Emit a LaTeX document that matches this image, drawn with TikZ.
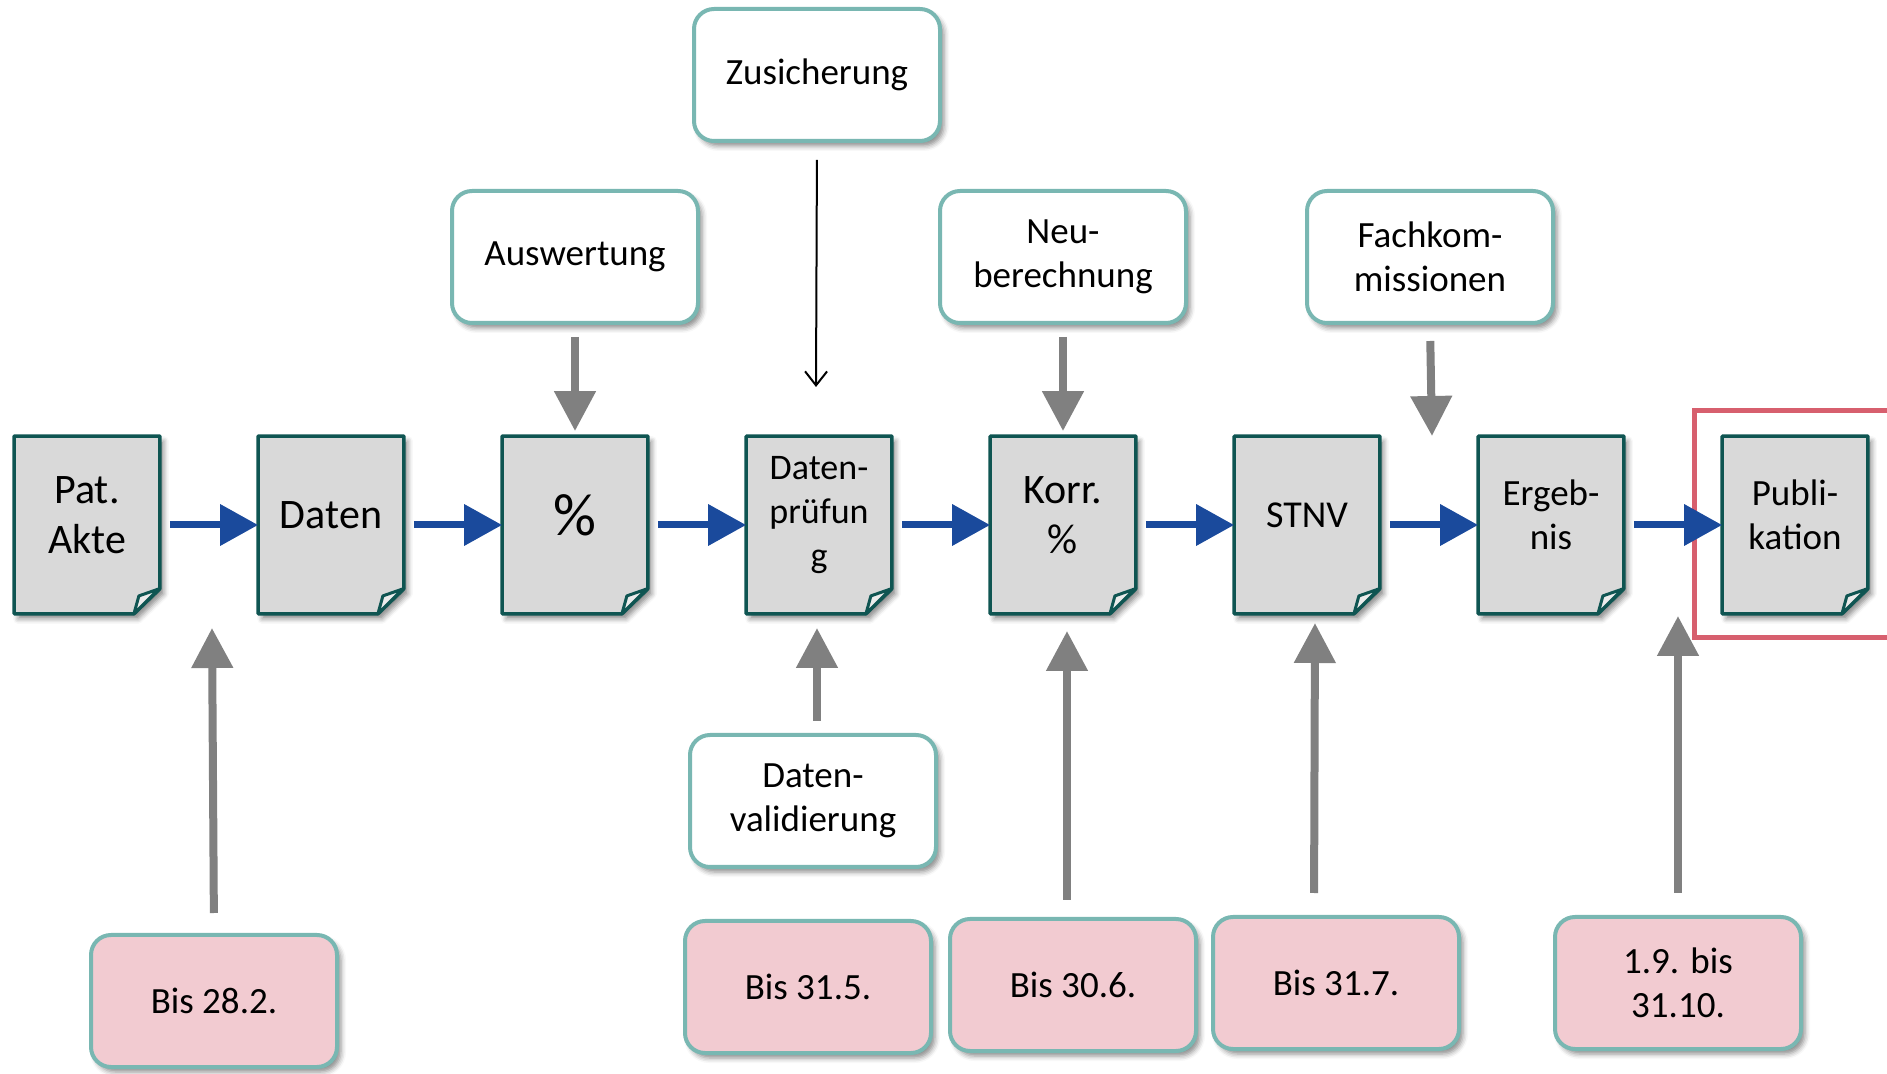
\documentclass[tikz,border=0pt]{standalone}
\usepackage{fontspec}
\setmainfont{Carlito}
\usetikzlibrary{arrows.meta,shadows.blur}
\definecolor{docfill}{HTML}{D9D9D9}
\definecolor{foldfill}{HTML}{ECECEC}
\definecolor{docline}{HTML}{0F5552}
\definecolor{boxline}{HTML}{79B7B2}
\definecolor{pinkfill}{HTML}{F2CBD1}
\definecolor{bluearrow}{HTML}{1A4A9C}
\definecolor{grayarrow}{HTML}{808080}
\definecolor{redframe}{HTML}{D75F6E}
\newcommand\docpaper[1]{%
  \path[docpath] (#1.north west) -- (#1.north east) -- ([yshift=12.5pt]#1.south east)
    -- ([xshift=-13pt]#1.south east) -- (#1.south west) -- cycle;
  \draw[foldpath] ([xshift=-13pt]#1.south east) -- ([xshift=-10.5pt,yshift=9pt]#1.south east)
    -- ([xshift=-0.5pt,yshift=12.5pt]#1.south east) -- cycle;}
\begin{document}
\begin{tikzpicture}[x=0.5pt,y=-0.5pt,
  docbox/.style={minimum width=72.5pt, minimum height=88.5pt, inner sep=0pt, draw=none},
  docpath/.style={fill=docfill, draw=docline, line width=1.7pt, line join=round,
    blur shadow={shadow xshift=2pt, shadow yshift=-2.5pt, shadow blur radius=2.5pt, shadow opacity=45}},
  foldpath/.style={fill=foldfill, draw=docline, line width=1.5pt, line join=round},
  doctext/.style={align=center, inner sep=0pt, font=\fontsize{21}{25}\selectfont},
  docsmall/.style={align=center, inner sep=0pt, font=\fontsize{18.5}{22}\selectfont},
  docpct/.style={align=center, inner sep=0pt, font=\fontsize{30}{30}\selectfont},
  infobox/.style={draw=boxline, line width=2pt, rounded corners=10pt, fill=white,
    minimum width=123pt, minimum height=66pt, align=center, inner sep=2pt,
    font=\fontsize{18.5}{22}\selectfont,
    blur shadow={shadow xshift=2pt, shadow yshift=-2.5pt, shadow blur radius=2.5pt, shadow opacity=45}},
  datebox/.style={infobox, fill=pinkfill},
  bluearr/.style={draw=bluearrow, line width=3.5pt, -{Triangle[length=19pt,width=20pt]}},
  grayarr/.style={draw=grayarrow, line width=4pt, -{Triangle[length=20pt,width=20pt]}},
  thinarr/.style={draw=black, line width=1pt, -{Straight Barb[length=7pt,width=11pt]}},
]
\useasboundingbox (0,0) rectangle (1887,1074);

% documents
\node[docbox] (d1) at (87,525) {};  \docpaper{d1}
\node[doctext] (t1) at ([yshift=5pt]d1.center) {Pat.\\Akte};
\node[docbox] (d2) at (331,525) {}; \docpaper{d2}
\node[doctext] (t2) at ([yshift=5pt]d2.center) {Daten};
\node[docbox] (d3) at (575,525) {}; \docpaper{d3}
\node[docpct] (t3) at ([yshift=5pt]d3.center) {\%};
\node[docbox] (d4) at (819,525) {}; \docpaper{d4}
\node[docsmall, font=\fontsize{18}{22}\selectfont] (t4) at ([yshift=5pt]d4.center) {Daten-\\prüfun\\g};
\node[docbox] (d5) at (1063,525) {}; \docpaper{d5}
\node[doctext] (t5) at ([yshift=5pt]d5.center) {Korr.\\\%};
\node[docbox] (d6) at (1307,525) {}; \docpaper{d6}
\node[docsmall, font=\fontsize{19}{22}\selectfont] (t6) at ([yshift=5pt]d6.center) {STNV};
\node[docbox] (d7) at (1551,525) {}; \docpaper{d7}
\node[docsmall] (t7) at ([yshift=5pt]d7.center) {Ergeb-\\nis};
\node[docbox] (d8) at (1795,525) {}; \docpaper{d8}
\node[docsmall] (t8) at ([yshift=5pt]d8.center) {Publi-\\kation};

% red frame
\draw[draw=redframe, line width=2.5pt] (1694.5,410.5) rectangle (1895,637.5);

% top boxes
\node[infobox] (zus) at (817,75) {Zusicherung};
\node[infobox] (ausw) at (575,257) {Auswertung};
\node[infobox] (neu) at (1063,257) {Neu-\\berechnung};
\node[infobox] (fach) at (1430,257) {Fachkom-\\missionen};
\node[infobox] (val) at (813,801) {Daten-\\validierung};

% date boxes
\node[datebox] (p1) at (214,1001) {Bis 28.2.};
\node[datebox] (p2) at (808,987) {Bis 31.5.};
\node[datebox] (p3) at (1073,985) {Bis 30.6.};
\node[datebox] (p4) at (1336,983) {Bis 31.7.};
\node[datebox] (p5) at (1678,983) {1.9. bis\\31.10.};

% free ends
\coordinate (zt) at (816,387);
\coordinate (ft) at (1432,436);
\coordinate (cv) at (817,628);
\coordinate (c1) at (212,628);
\coordinate (c3) at (1067,631);
\coordinate (c4) at (1315,623);
\coordinate (c5) at (1678,616);

% blue flow arrows
\draw[bluearr, shorten <=5pt] (d1.east) -- (d2.west);
\draw[bluearr, shorten <=5pt] (d2.east) -- (d3.west);
\draw[bluearr, shorten <=5pt] (d3.east) -- (d4.west);
\draw[bluearr, shorten <=5pt] (d4.east) -- (d5.west);
\draw[bluearr, shorten <=5pt] (d5.east) -- (d6.west);
\draw[bluearr, shorten <=5pt] (d6.east) -- (d7.west);
\draw[bluearr, shorten <=5pt] (d7.east) -- (d8.west);

% gray arrows from above
\draw[grayarr, shorten <=6pt, shorten >=2.5pt] (ausw.south) -- (d3.north);
\draw[grayarr, shorten <=6pt, shorten >=2.5pt] (neu.south) -- (d5.north);
\draw[grayarr, shorten <=8pt] (fach.south) -- (ft);

% thin arrow
\draw[thinarr, shorten <=8.5pt] (zus.south) -- (zt);

% gray arrows from below
\draw[grayarr, shorten <=6pt] ([xshift=2pt]val.north) -- (cv);
\draw[grayarr, shorten <=10pt] (p1.north) -- (c1);
\draw[grayarr, shorten <=8.5pt] ([xshift=-3pt]p3.north) -- (c3);
\draw[grayarr, shorten <=11pt] ([xshift=-11pt]p4.north) -- (c4);
\draw[grayarr, shorten <=11pt] (p5.north) -- (c5);
\end{tikzpicture}
\end{document}
